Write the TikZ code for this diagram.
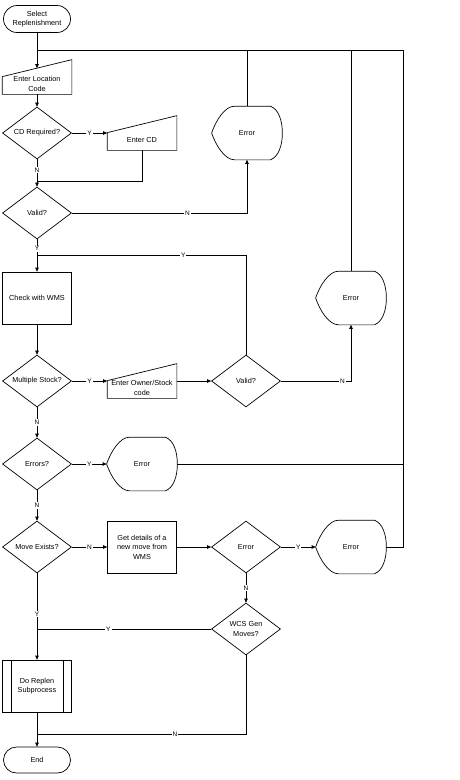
\documentclass[tikz,border=0pt]{standalone}
\usepackage{fontspec}
\setmainfont{Liberation Sans}
\usetikzlibrary{shapes.geometric,shapes.misc,arrows.meta}

\tikzset{
    every node/.style={font=\fontsize{7.3}{9.5}\selectfont},
    terminal/.style={rounded rectangle,draw,minimum width=69pt,minimum height=27pt,inner sep=1pt,align=center},
    decision/.style={diamond,draw,aspect=1.35,minimum width=69pt,minimum height=52pt,inner sep=0pt,align=center},
    process/.style={rectangle,draw,minimum width=69pt,minimum height=52pt,align=center},
    manual/.style={rectangle,minimum width=69pt,minimum height=20pt,inner sep=1pt,align=center},
    display/.style={rectangle,minimum width=70pt,minimum height=53pt},
    lbl/.style={fill=white,inner sep=1pt,font=\fontsize{6.5}{7}\selectfont},
    flow/.style={-{Triangle[length=4pt,width=3.5pt]}}
}

\begin{document}
\begin{tikzpicture}[x=1pt,y=-1pt,line width=0.7pt]
        \useasboundingbox (0,0) rectangle (459,780);
        % shapes
        \node[terminal] (start) at (37,19) {Select\\Replenishment};
        \node[manual] (loc) at (37,84) {Enter Location\\Code};
        \node[decision] (cdreq) at (37,133) {CD Required?};
        \node[manual] (cd) at (142,140) {Enter CD};
        \node[decision] (valid) at (37,213) {Valid?};
        \node[display] (err1) at (247,133) {Error};
        \node[process] (check) at (37,298) {Check with WMS};
        \node[decision] (multi) at (37,381) {Multiple Stock?};
        \node[manual] (owner) at (142,388) {Enter Owner/Stock\\code};
        \node[decision] (valid2) at (246,381) {Valid?};
        \node[display] (err2) at (351,298) {Error};
        \node[decision] (errs) at (37,464) {Errors?};
        \node[display] (err3) at (142,464) {Error};
        \node[decision] (moves) at (37,547) {Move Exists?};
        \node[process] (getmove) at (142,547) {Get details of a\\new move from\\WMS};
        \node[decision] (errd) at (246,547) {Error};
        \node[display] (err4) at (351,547) {Error};
        \node[decision] (wcs) at (246,629) {WCS Gen\\Moves?};
        \node[process] (replen) at (37,686) {Do Replen\\Subprocess};
        \node[terminal,minimum height=26pt] (end) at (37,760) {End};

        % outlines of the manual input and display nodes
        \foreach \n in {loc,cd,owner}
            \draw ([yshift=-3pt]\n.north west) -- ([yshift=14pt]\n.north east) -- (\n.south east) -- (\n.south west) -- cycle;
        \foreach \n in {err1,err2,err3,err4}
            \draw ([xshift=23pt]\n.north west) -- ([xshift=-12pt]\n.north east)
                .. controls ([xshift=-4pt,yshift=-3pt]\n.north east) and ([yshift=13pt]\n.east) .. (\n.east)
                .. controls ([yshift=-13pt]\n.east) and ([xshift=-4pt,yshift=3pt]\n.south east) .. ([xshift=-12pt]\n.south east)
                -- ([xshift=23pt]\n.south west)
                .. controls ([xshift=13pt]\n.south west) and ([xshift=4pt,yshift=-12pt]\n.west) .. (\n.west)
                .. controls ([xshift=4pt,yshift=12pt]\n.west) and ([xshift=13pt]\n.north west) .. ([xshift=23pt]\n.north west);
        \draw ([xshift=9pt]replen.north west) -- ([xshift=9pt]replen.south west);
        \draw ([xshift=-9pt]replen.north east) -- ([xshift=-9pt]replen.south east);

        % junctions
        \coordinate (top) at (37,50);
        \coordinate (rail) at (403,50);
        \coordinate (m1) at (37,181);
        \coordinate (m2) at (37,255);
        \coordinate (m3) at (37,629);
        \coordinate (m4) at (37,734);

        % connectors
        \draw[flow] (start.south) -- ([yshift=5.5pt]loc.north);
        \draw (top) -- (rail) -- (rail |- err4.east) -- (err4.east);
        \draw (err1.north) -- (err1.north |- top);
        \draw (err2.north) -- (err2.north |- top);
        \draw (err3.east) -- (err3.east -| rail);
        \draw[flow] (loc.south) -- (cdreq.north);
        \draw[flow] (cdreq.east) -- node[lbl] {Y} (cdreq.east -| cd.west);
        \draw (cdreq.south) -- node[lbl] {N} (m1);
        \draw (cd.south) |- (m1);
        \draw[flow] (m1) -- (valid.north);
        \draw[flow] (valid.east) -| node[lbl,pos=0.33] {N} (err1.south);
        \draw (valid.south) -- node[lbl,pos=0.6] {Y} (m2);
        \draw (valid2.north) |- node[lbl,pos=0.65] {Y} (m2);
        \draw[flow] (m2) -- (check.north);
        \draw[flow] (check.south) -- (multi.north);
        \draw[flow] (multi.east) -- node[lbl] {Y} (multi.east -| owner.west);
        \draw[flow] (valid2.west -| owner.east) -- (valid2.west);
        \draw[flow] (valid2.east) -| node[lbl,pos=0.44] {N} (err2.south);
        \draw[flow] (multi.south) -- node[lbl] {N} (errs.north);
        \draw[flow] (errs.east) -- node[lbl] {Y} (err3.west);
        \draw[flow] (errs.south) -- node[lbl] {N} (moves.north);
        \draw[flow] (moves.east) -- node[lbl] {N} (getmove.west);
        \draw[flow] (getmove.east) -- (errd.west);
        \draw[flow] (errd.east) -- node[lbl] {Y} (err4.west);
        \draw[flow] (errd.south) -- node[lbl] {N} (wcs.north);
        \draw (wcs.west) -- node[lbl,pos=0.59] {Y} (m3);
        \draw[flow] (moves.south) -- node[lbl,pos=0.47] {Y} (replen.north);
        \draw (replen.south) -- (m4);
        \draw (wcs.south) |- node[lbl,pos=0.67] {N} (m4);
        \draw[flow] (m4) -- (end.north);
    \end{tikzpicture}
\end{document}
